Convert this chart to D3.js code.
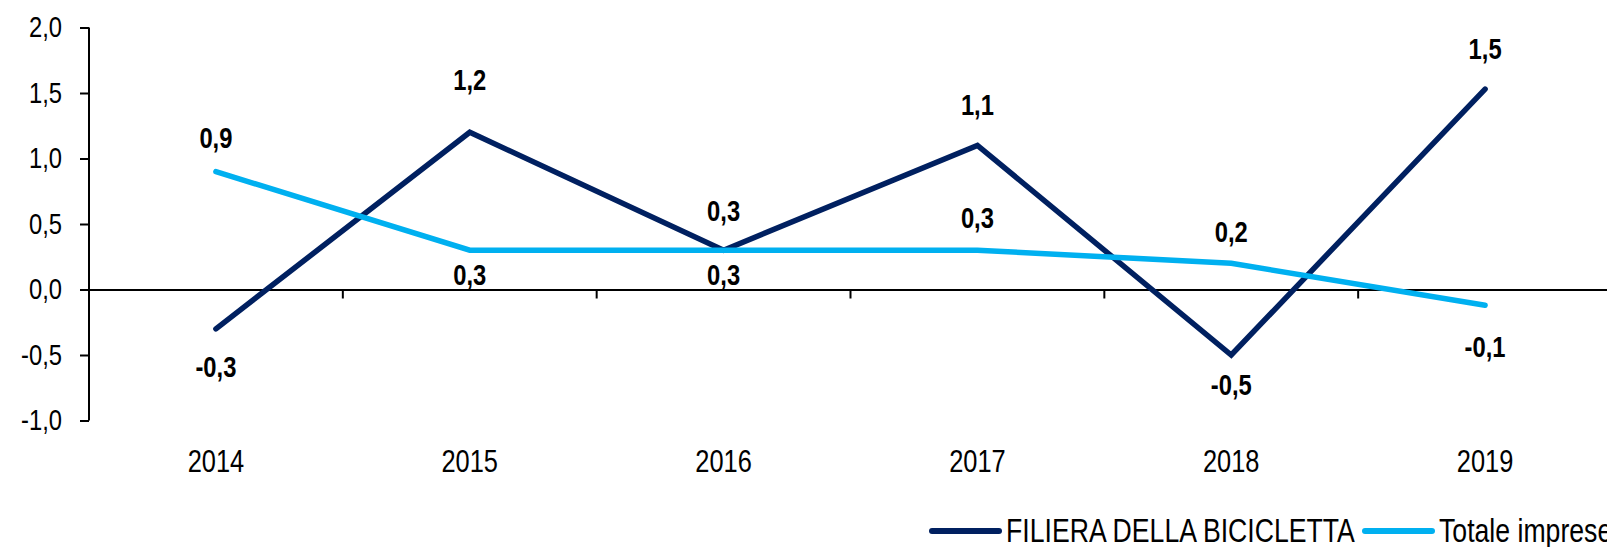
<!DOCTYPE html>
<html>
<head>
<meta charset="utf-8">
<script src="https://cdn.jsdelivr.net/npm/d3@7"></script>
<style>
  body { margin: 0; background: #fff; overflow: hidden; }
  svg { display: block; font-family: "Liberation Sans", Arial, sans-serif; }
</style>
</head>
<body>
<div class="chart"></div>
<script>
var width = 1607;
var height = 547;
var narrow = 0.82;   // squeeze Liberation Sans to look like Arial Narrow

// data
var years = ['2014', '2015', '2016', '2017', '2018', '2019'];
var filiera = [-0.3, 1.2, 0.3, 1.1, -0.5, 1.53];
var totale = [0.9, 0.3, 0.3, 0.3, 0.2, -0.12];
var yTicks = [-1, -0.5, 0, 0.5, 1, 1.5, 2];
var seriesNames = ['FILIERA DELLA BICICLETTA', 'Totale imprese'];

var colors = ['#002060', '#00B0F0'];

var locale = d3.formatLocale({decimal: ',', thousands: '.', grouping: [3], currency: ['', ''], minus: '-'});
var fmt = locale.format('.1f');

var svg = d3.select('div.chart').append('svg')
    .attr('width', width)
    .attr('height', height);

var x_scale = d3.scaleBand()
    .domain(years)
    .range([89, 1612]);
var y_scale = d3.scaleLinear()
    .domain([-1, 2])
    .range([420.5, 27.5]);

// y axis
var y_axis = d3.axisLeft(y_scale)
    .tickValues(yTicks)
    .tickSize(9)
    .tickFormat(fmt);
var gy = svg.append('g')
    .attr('class', 'y-axis')
    .attr('transform', 'translate(89,0)')
    .call(y_axis);
gy.select('.domain').attr('d', 'M0,' + y_scale(2) + 'V' + y_scale(-1))
    .attr('stroke', '#000').attr('stroke-width', 2);
gy.selectAll('.tick line').attr('stroke', '#000').attr('stroke-width', 2);
gy.selectAll('.tick text')
    .attr('transform', 'scale(' + narrow + ',1)')
    .attr('x', -27 / narrow)
    .attr('fill', '#000')
    .style('font-size', '29px');

// x axis at zero
var gx = svg.append('g')
    .attr('class', 'x-axis')
    .attr('transform', 'translate(0,' + y_scale(0) + ')')
    .call(d3.axisBottom(x_scale).tickSize(0).tickFormat(''));
gx.select('.domain').attr('stroke', '#000').attr('stroke-width', 2);
gx.selectAll('.tick').remove();

// tick marks between categories
gx.selectAll('line.bound')
    .data(years.slice(1))
    .enter()
    .append('line')
    .attr('class', 'bound')
    .attr('x1', function(d){ return x_scale(d); })
    .attr('x2', function(d){ return x_scale(d); })
    .attr('y1', 0)
    .attr('y2', 9)
    .attr('stroke', '#000')
    .attr('stroke-width', 2);

var cx = function(i){ return x_scale(years[i]) + x_scale.bandwidth() / 2; };

// year labels
svg.append('g')
    .selectAll('text')
    .data(years)
    .enter()
    .append('text')
    .attr('transform', function(d, i){ return 'translate(' + cx(i) + ',461) scale(' + narrow + ',1)'; })
    .attr('dy', '0.35em')
    .attr('text-anchor', 'middle')
    .style('font-size', '31px')
    .text(function(d){ return d; });

var series = [
    {name: seriesNames[0], values: filiera, color: colors[0], labelDy: [38, -52, -39, -41, 30, -40]},
    {name: seriesNames[1], values: totale, color: colors[1], labelDy: [-34, 25, 25, -32, -31, 42]}
];

var line = d3.line()
    .x(function(d, i){ return cx(i); })
    .y(function(d){ return y_scale(d); });

series.forEach(function(s){
    svg.append('path')
        .datum(s.values)
        .attr('d', line)
        .attr('fill', 'none')
        .attr('stroke', s.color)
        .attr('stroke-width', 5.5)
        .attr('stroke-linecap', 'round');
});

// data labels
series.forEach(function(s){
    svg.append('g')
        .selectAll('text')
        .data(s.values)
        .enter()
        .append('text')
        .attr('transform', function(d, i){
            return 'translate(' + cx(i) + ',' + (y_scale(d) + s.labelDy[i]) + ') scale(' + narrow + ',1)';
        })
        .attr('dy', '0.35em')
        .attr('text-anchor', 'middle')
        .style('font-size', '29px')
        .style('font-weight', 'bold')
        .text(function(d){ return fmt(d); });
});

// legend
var legend = svg.append('g').attr('class', 'legend');
var legendX = [932, 1365];
series.forEach(function(s, i){
    legend.append('line')
        .attr('x1', legendX[i])
        .attr('x2', legendX[i] + 67)
        .attr('y1', 531)
        .attr('y2', 531)
        .attr('stroke', s.color)
        .attr('stroke-width', 6)
        .attr('stroke-linecap', 'round');
    legend.append('text')
        .attr('transform', 'translate(' + (legendX[i] + 74) + ',542) scale(' + narrow + ',1)')
        .style('font-size', '32.5px')
        .text(s.name);
});
</script>
</body>
</html>
